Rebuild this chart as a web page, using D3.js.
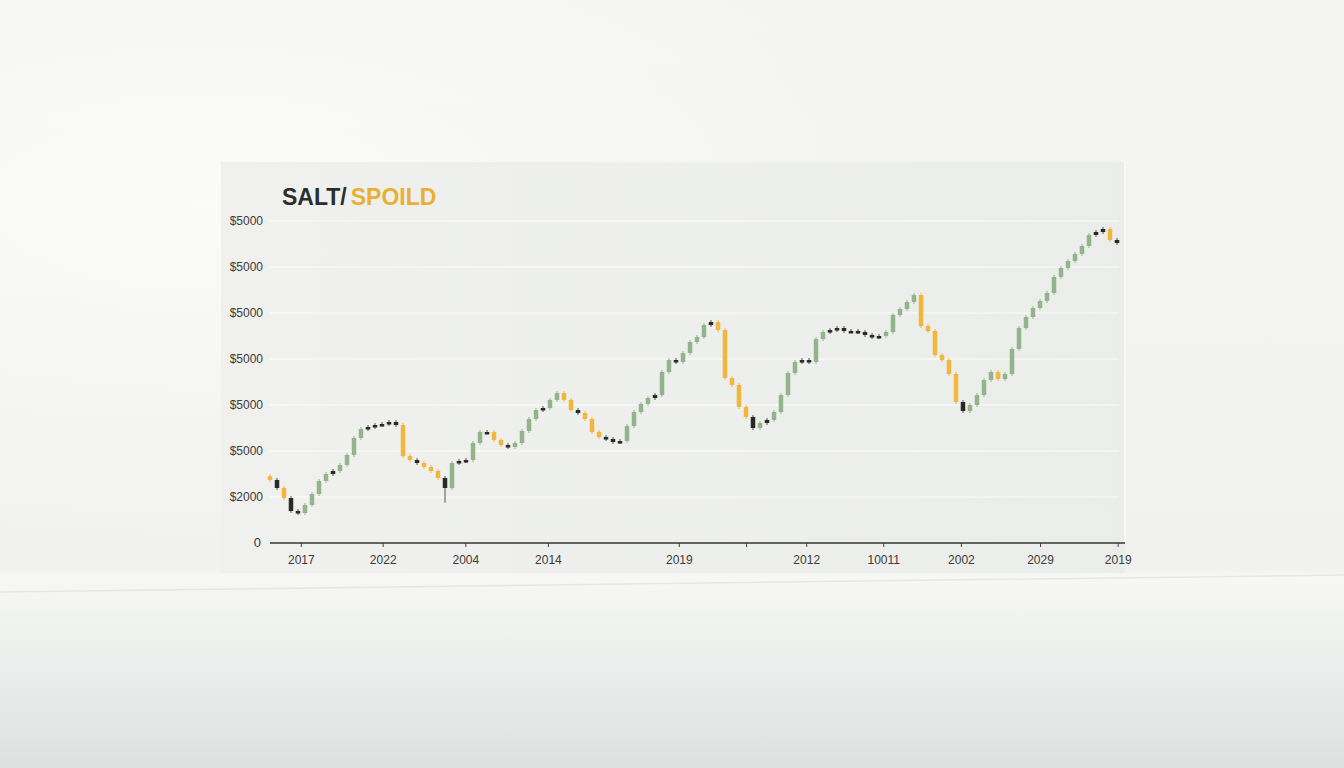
<!DOCTYPE html>
<html>
<head>
<meta charset="utf-8">
<script src="https://cdn.jsdelivr.net/npm/d3@7"></script>
<style>
    body { margin:0; padding:0; overflow:hidden; background:#f3f4f1; }
    svg { display:block; }
    .yLabel, .xTick text { font-family:"Liberation Sans", Arial, sans-serif; font-size:12px; fill:#3a3a3a; }
    .title { font-family:"Liberation Sans", Arial, sans-serif; font-size:23px; font-weight:bold; }
</style>
</head>
<body>
<svg></svg>
<script>

//closing price of every candle, opening price is the close before it
var firstOpen = 1450;
var closes = [
    1370,1196,978,696,652,826,1065,1348,1500,1565,
    1696,1913,2283,2478,2522,2565,2587,2630,2565,1891,
    1804,1739,1652,1565,1413,1196,1739,1783,1804,2174,
    2413,2413,2239,2130,2087,2174,2435,2696,2891,2935,
    3109,3261,3109,2891,2826,2696,2413,2304,2261,2196,
    2217,2543,2848,3022,3152,3217,3717,3978,3935,4130,
    4370,4478,4739,4804,4630,3587,3435,2957,2739,2500,
    2609,2674,2848,3217,3696,3935,3978,3935,4435,4587,
    4630,4674,4609,4609,4587,4522,4478,4500,4587,4957,
    5087,5239,5391,4717,4609,4087,3978,3674,3065,2870,
    3000,3217,3543,3717,3565,3674,4217,4674,4913,5109,
    5261,5435,5783,5978,6130,6283,6457,6696,6761,6826,
    6587,6522
];

//candles drawn dark even though they moved a lot
var darkCandles = [1, 3, 25, 44, 69, 99];

//one candle with a long lower wick
var longWicks = [{index:25, low:920}];

//y axis
var yTicks = [0,1000,2000,3000,4000,5000,6000,7000];
var yTickLabels = ["0","$2000","$5000","$5000","$5000","$5000","$5000","$5000"];

//x axis, positions are candle indexes
var xTicks = [4.4,16.1,27.9,39.7,58.4,68,76.6,87.6,98.7,110,121.1];
var xTickLabels = ["2017","2022","2004","2014","2019","","2012","10011","2002","2029","2019"];

var titleParts = ["SALT/","SPOILD"];

var colors = {up:"#93b38b", down:"#f3b63c", dark:"#2a2924"};

//turns the closes into candle objects
var makeCandles = function(closes)
{
    return closes.map(function(close,i)
    {
        var open = i==0 ? firstOpen : closes[i-1];
        var kind = close>=open ? "up" : "down";
        if(Math.abs(close-open)<70 || darkCandles.indexOf(i)>=0)
        {
            kind = "dark";
        }
        var extra = longWicks.filter(function(w){return w.index==i;});
        return {
            index:i,
            open:open,
            close:close,
            low:extra.length ? extra[0].low : Math.min(open,close),
            high:Math.max(open,close),
            kind:kind
        };
    });
}

var drawBackground = function(svg,screen,panel)
{
    var defs = svg.append("defs");

    var page = defs.append("linearGradient")
        .attr("id","pageGrad")
        .attr("x1",0).attr("y1",0).attr("x2",0).attr("y2",1);
    page.append("stop").attr("offset","0%").attr("stop-color","#f4f5f2");
    page.append("stop").attr("offset","74%").attr("stop-color","#f1f2ef");
    page.append("stop").attr("offset","75%").attr("stop-color","#f7f8f6");
    page.append("stop").attr("offset","84%").attr("stop-color","#eef0ee");
    page.append("stop").attr("offset","100%").attr("stop-color","#dce1e0");

    var glow = defs.append("radialGradient")
        .attr("id","glow")
        .attr("cx","15%").attr("cy","35%").attr("r","60%");
    glow.append("stop").attr("offset","0%").attr("stop-color","#fbfbf8").attr("stop-opacity",0.9);
    glow.append("stop").attr("offset","100%").attr("stop-color","#fbfbf8").attr("stop-opacity",0);

    var panelGrad = defs.append("linearGradient")
        .attr("id","panelGrad")
        .attr("x1",0).attr("y1",0).attr("x2",1).attr("y2",0);
    panelGrad.append("stop").attr("offset","0%").attr("stop-color","#f0f1ee");
    panelGrad.append("stop").attr("offset","100%").attr("stop-color","#ebedea");

    svg.append("rect")
        .attr("width",screen.width)
        .attr("height",screen.height)
        .attr("fill","url(#pageGrad)");

    svg.append("rect")
        .attr("width",screen.width)
        .attr("height",575)
        .attr("fill","url(#glow)");

    //faint reflection line on the floor
    svg.append("line")
        .attr("x1",0).attr("y1",592)
        .attr("x2",1344).attr("y2",575)
        .attr("stroke","#e4e7e4")
        .attr("stroke-width",1.5);

    //chart card
    svg.append("rect")
        .attr("x",panel.x)
        .attr("y",panel.y)
        .attr("width",panel.width)
        .attr("height",panel.height)
        .attr("fill","url(#panelGrad)");

    svg.append("line")
        .attr("x1",panel.x+panel.width).attr("y1",panel.y)
        .attr("x2",panel.x+panel.width).attr("y2",panel.y+panel.height-30)
        .attr("stroke","#fbfbfa")
        .attr("stroke-width",1.5);
}

var drawAxes = function(svg,margins,graphDim,xScale,yScale)
{
    //white gridlines
    svg.append("g")
        .selectAll("line")
        .data(yTicks.slice(1))
        .enter()
        .append("line")
        .attr("x1",margins.left)
        .attr("x2",margins.left+graphDim.width)
        .attr("y1",function(d){return yScale(d);})
        .attr("y2",function(d){return yScale(d);})
        .attr("stroke","#fdfdfc")
        .attr("stroke-width",1.2);

    //y labels
    svg.append("g")
        .selectAll("text")
        .data(yTicks)
        .enter()
        .append("text")
        .classed("yLabel",true)
        .attr("text-anchor","end")
        .attr("x",function(d){return d==0 ? 261 : 263;})
        .attr("y",function(d){return yScale(d)+4;})
        .style("font-size",function(d){return d==0 ? "13px" : "12px";})
        .text(function(d,i){return yTickLabels[i];});

    //x axis
    var xAxis = d3.axisBottom(xScale)
        .tickValues(xTicks)
        .tickSize(4)
        .tickPadding(8)
        .tickFormat(function(d,i){return xTickLabels[i];});

    var axis = svg.append("g")
        .classed("xTick",true)
        .attr("transform","translate(0,"+yScale(0)+")")
        .call(xAxis);

    axis.select(".domain")
        .attr("d","M"+(margins.left)+",0H"+(margins.left+graphDim.width+6))
        .attr("stroke","#333")
        .attr("stroke-width",1.3);
    axis.selectAll(".tick line").attr("stroke","#444");
    axis.selectAll(".tick text").attr("fill","#3a3a3a");
}

var drawCandles = function(svg,candles,xScale,yScale)
{
    var width = 4.5;

    var groups = svg.append("g")
        .selectAll("g")
        .data(candles)
        .enter()
        .append("g");

    //wicks
    groups.append("line")
        .attr("x1",function(c){return xScale(c.index);})
        .attr("x2",function(c){return xScale(c.index);})
        .attr("y1",function(c){return yScale(c.high)-2;})
        .attr("y2",function(c){return yScale(c.low)+2;})
        .attr("stroke",function(c){return c.kind=="dark" ? "#555" : colors[c.kind];})
        .attr("stroke-width",1);

    //bodies
    groups.append("rect")
        .attr("x",function(c){return xScale(c.index)-width/2;})
        .attr("y",function(c){return yScale(Math.max(c.open,c.close));})
        .attr("width",width)
        .attr("height",function(c)
        {
            return Math.max(2.5,Math.abs(yScale(c.open)-yScale(c.close)));
        })
        .attr("fill",function(c){return colors[c.kind];});
}

var drawTitle = function(svg)
{
    var title = svg.append("text")
        .classed("title",true)
        .attr("x",282)
        .attr("y",205);

    title.append("tspan")
        .attr("fill","#2d2d2b")
        .text(titleParts[0]);

    title.append("tspan")
        .attr("fill","#e9b033")
        .attr("dx",4)
        .text(titleParts[1]);
}

var initGraph = function()
{
    var screen = {width:1344,height:768};
    var margins = {left:270,top:172};
    var graphDim = {width:849,height:371};
    var panel = {x:221,y:162,width:904,height:411};

    var svg = d3.select("svg")
        .attr("width",screen.width)
        .attr("height",screen.height);

    var xScale = d3.scaleLinear()
        .domain([0,121])
        .range([margins.left,margins.left+847]);

    var yScale = d3.scaleLinear()
        .domain([0,1000])
        .range([543,497]);

    drawBackground(svg,screen,panel);
    drawAxes(svg,margins,graphDim,xScale,yScale);
    drawCandles(svg,makeCandles(closes),xScale,yScale);
    drawTitle(svg);
}

initGraph();
</script>
</body>
</html>
